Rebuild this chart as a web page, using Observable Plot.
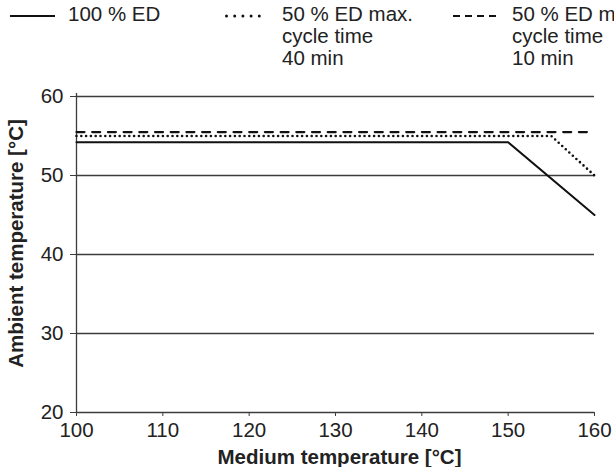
<!DOCTYPE html>
<html>
<head>
<meta charset="utf-8">
<script src="https://cdn.jsdelivr.net/npm/d3@7"></script>
<script src="https://cdn.jsdelivr.net/npm/@observablehq/plot@0.6"></script>
<style>
  html, body { margin: 0; padding: 0; background: #fff; overflow: hidden; }
  body { width: 614px; height: 467px; font-family: "Liberation Sans", Arial, sans-serif; color: #222; }
  #legend { position: relative; height: 80px; width: 614px; overflow: hidden; }
  .label { position: absolute; top: 3px; font-size: 20.5px; line-height: 22px; white-space: nowrap; }
  #chart svg { display: block; }
</style>
</head>
<body>
<div id="legend"></div>
<div id="chart"></div>
<script>
// ---- data ----
const xTicks = [100, 110, 120, 130, 140, 150, 160];
const yTicks = [20, 30, 40, 50, 60];

const ed100X = [100, 150, 160];
const ed100Y = [54.2, 54.2, 45];

const ed50_40X = [100, 155, 160];
const ed50_40Y = [55.0, 55.0, 50];

const ed50_10X = [100, 160];
const ed50_10Y = [55.5, 55.5];

const seriesNames = ["100 % ED", "50 % ED max.\ncycle time\n40 min", "50 % ED max.\ncycle time\n10 min"];

// ---- legend ----
const legendDefs = [
  {name: seriesNames[0], sx: 10, sw: 45, tx: 68, dash: null, cap: "butt", width: 2},
  {name: seriesNames[1], sx: 225, sw: 42, tx: 282, dash: "0,8.2", cap: "round", width: 3},
  {name: seriesNames[2], sx: 453, sw: 44, tx: 512, dash: "7,5", cap: "butt", width: 2.2}
];
const legend = document.getElementById("legend");
for (const d of legendDefs) {
  const sw = document.createElementNS("http://www.w3.org/2000/svg", "svg");
  sw.setAttribute("width", 614);
  sw.setAttribute("height", 30);
  sw.style.position = "absolute";
  sw.style.left = "0px";
  sw.style.top = "0px";
  const ln = document.createElementNS("http://www.w3.org/2000/svg", "line");
  ln.setAttribute("x1", d.sx + (d.cap === "round" ? 1.5 : 0));
  ln.setAttribute("x2", d.sx + d.sw);
  ln.setAttribute("y1", 16);
  ln.setAttribute("y2", 16);
  ln.setAttribute("stroke", "#111");
  ln.setAttribute("stroke-width", d.width);
  ln.setAttribute("stroke-linecap", d.cap);
  if (d.dash) ln.setAttribute("stroke-dasharray", d.dash);
  sw.appendChild(ln);
  legend.appendChild(sw);
  const lab = document.createElement("div");
  lab.className = "label";
  lab.style.left = d.tx + "px";
  lab.innerHTML = d.name.split("\n").join("<br>");
  legend.appendChild(lab);
}

// ---- chart ----
const solid = ed100X.map((x, i) => ({x, y: ed100Y[i]}));
const dotted = ed50_40X.map((x, i) => ({x, y: ed50_40Y[i]}));
const dashed = ed50_10X.map((x, i) => ({x, y: ed50_10Y[i]}));

const chart = Plot.plot({
  width: 614,
  height: 387,
  marginTop: 16,
  marginBottom: 55,
  marginLeft: 76,
  marginRight: 20,
  style: {fontFamily: "Liberation Sans, Arial, sans-serif", fontSize: "20.5px", color: "#222", background: "#fff"},
  x: {domain: [xTicks[0], xTicks[xTicks.length - 1]], label: null},
  y: {domain: [yTicks[0], yTicks[yTicks.length - 1]], label: null},
  marks: [
    Plot.ruleY(yTicks, {stroke: "#3c3c3c", strokeWidth: 1.3}),
    Plot.ruleX([xTicks[0]], {stroke: "#3c3c3c", strokeWidth: 1.3, insetTop: -3}),
    Plot.axisX({ticks: xTicks, tickSize: 4, tickPadding: 6, stroke: "#3c3c3c", fill: "#222", fontSize: 20.5, label: null}),
    Plot.axisY({ticks: yTicks, tickSize: 6, tickPadding: 7, stroke: "#3c3c3c", fill: "#222", fontSize: 20.5, label: null}),
    Plot.line(dashed, {x: "x", y: "y", stroke: "#111", strokeWidth: 2.2, strokeDasharray: "8,7.7"}),
    Plot.line(dotted, {x: "x", y: "y", stroke: "#111", strokeWidth: 2.6, strokeDasharray: "0,4.8", strokeLinecap: "round"}),
    Plot.line(solid, {x: "x", y: "y", stroke: "#111", strokeWidth: 2}),
    Plot.text(["Medium temperature [°C]"], {frameAnchor: "bottom", dy: 51, dx: 4, lineAnchor: "bottom", fontSize: 20.5, fontWeight: "bold", fill: "#222"}),
    Plot.text(["Ambient temperature [°C]"], {frameAnchor: "left", dx: -68, dy: -11, rotate: -90, textAnchor: "middle", lineAnchor: "top", fontSize: 20.5, fontWeight: "bold", fill: "#222"})
  ]
});
document.getElementById("chart").appendChild(chart);
</script>
</body>
</html>
